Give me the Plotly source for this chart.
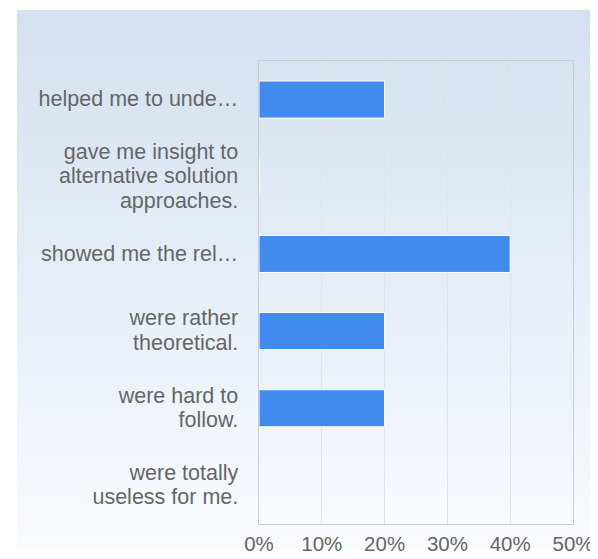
import base64
import plotly.graph_objects as go

categories = [
    "helped me to unde…",
    "gave me insight to<br>alternative solution<br>approaches.",
    "showed me the rel…",
    "were rather<br>theoretical.",
    "were hard to<br>follow.",
    "were totally<br>useless for me.",
]
values = [20, 0, 40, 20, 20, 0]
x_ticks = [0, 10, 20, 30, 40, 50]
x_tick_labels = ["0%", "10%", "20%", "30%", "40%", "50%"]

W, H = 598, 559
L, R, T, B = 251, 21.5, 53, 26
pw, ph = W - L - R, H - T - B

svg = (
    '<svg xmlns="http://www.w3.org/2000/svg" width="100" height="100" preserveAspectRatio="none">'
    '<defs><linearGradient id="g" x1="0" y1="0" x2="0" y2="1">'
    '<stop offset="0" stop-color="#d3e0f0"/><stop offset="1" stop-color="#f9fbfe"/>'
    '</linearGradient></defs><rect width="100" height="100" fill="url(#g)"/></svg>'
)
src = "data:image/svg+xml;base64," + base64.b64encode(svg.encode()).decode()

big = '<span style="font-size:21.5px">{}</span>'
ylabels = ["<br>".join(big.format(p) for p in c.split("<br>")) for c in categories]

fig = go.Figure()
fig.add_trace(go.Bar(
    x=values, y=ylabels, orientation="h",
    marker=dict(color="#418bee", line=dict(color="#ffffff", width=1)),
    width=0.48, hoverinfo="skip",
))

fig.add_layout_image(dict(
    source=src, xref="paper", yref="paper",
    x=-L / pw, y=(H - B) / ph,
    sizex=W / pw, sizey=H / ph,
    xanchor="left", yanchor="top", sizing="stretch", layer="below",
))

font = "Arial, Liberation Sans, sans-serif"
fig.update_layout(
    width=W, height=H,
    margin=dict(l=L, r=R, t=T, b=B),
    paper_bgcolor="#ffffff", plot_bgcolor="rgba(0,0,0,0)",
    showlegend=False,
    font=dict(family=font, size=18.8, color="#666666"),
    xaxis=dict(
        range=[0, 50], tickvals=x_ticks, ticktext=x_tick_labels,
        showgrid=True, gridcolor="#e2e4e8", gridwidth=1,
        showline=True, linecolor="#cccccc", linewidth=1, mirror=True,
        zeroline=False, ticks="", tickfont=dict(size=20.5, color="#666666"),
        ticklabelstandoff=1, fixedrange=True,
    ),
    yaxis=dict(
        autorange="reversed", showgrid=False,
        showline=True, linecolor="#cccccc", linewidth=1, mirror=True,
        ticks="", tickfont=dict(size=18.8, color="#666666"),
        ticklabelstandoff=16, fixedrange=True,
    ),
)

fig.write_html("out.html")
